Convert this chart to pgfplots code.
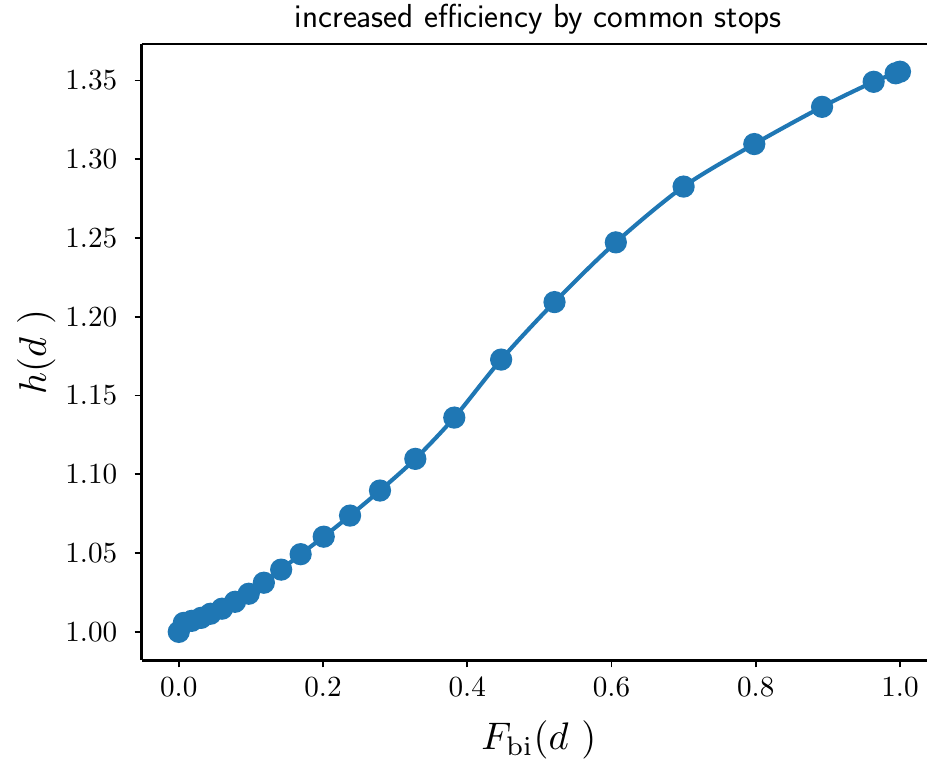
\documentclass[border=0pt]{standalone}
\usepackage{pgfplots}
\pgfplotsset{compat=1.18}
\definecolor{mplblue}{HTML}{1F77B4}
\pgfplotstableread{
x y
0.000 1.0000
0.007 1.0057
0.018 1.0070
0.031 1.0089
0.044 1.0115
0.060 1.0147
0.078 1.0191
0.097 1.0242
0.118 1.0312
0.142 1.0395
0.169 1.0493
0.201 1.0604
0.2375 1.0738
0.279 1.0897
0.328 1.1098
0.382 1.1360
0.447 1.1728
0.521 1.2093
0.606 1.2472
0.700 1.2826
0.798 1.3096
0.892 1.3332
0.9635 1.3491
0.994 1.3545
1.000 1.3555
}\datatable
\begin{document}
\begin{tikzpicture}
\begin{axis}[
  scale only axis,
  width=382.4pt, height=300pt,
  xmin=-0.0514, xmax=1.0375,
  ymin=0.982, ymax=1.373,
  axis x line*=bottom, axis y line*=left,
  axis line style={line width=1.3pt, -},
  xtick={0,0.2,0.4,0.6,0.8,1.0},
  ytick={1.00,1.05,1.10,1.15,1.20,1.25,1.30,1.35},
  xticklabel style={yshift=0pt, /pgf/number format/.cd,fixed,fixed zerofill,precision=1},
  yticklabel style={xshift=-2.4pt, /pgf/number format/.cd,fixed,fixed zerofill,precision=2},
  tick label style={font=\normalsize, scale=1.42},
  tick align=outside,
  major tick length=3.5pt,
  tick style={line width=0.8pt, black},
  xlabel={$F_{\mathrm{bi}}(d\ )$},
  ylabel={$h(d\ )$},
  label style={font=\normalsize, scale=1.87},
  xlabel style={at={(rel axis cs:0.5057,0)}, anchor=north, inner sep=0pt, yshift=-15.67pt},
  ylabel style={yshift=-3.5pt},
  title={\sffamily\fontsize{16.2}{19}\selectfont increased efficiency by common stops},
  title style={yshift=-4.5pt, xshift=2pt},
  clip=false,
]
\addplot[mplblue, line width=2pt, smooth, tension=0.5, mark=*, mark size=4.4pt, mark options={solid, fill=mplblue, draw=mplblue}] table[x=x,y=y] {\datatable};
\draw[line width=1.3pt] (rel axis cs:0,1) -- (rel axis cs:1,1);
\coordinate (BL) at (rel axis cs:0,0);
\coordinate (TR) at (rel axis cs:1,1);
\end{axis}
\pgfresetboundingbox
\useasboundingbox ([shift={(-69pt,-52.2pt)}]BL) rectangle ([shift={(0pt,21.5pt)}]TR);
\end{tikzpicture}
\end{document}
